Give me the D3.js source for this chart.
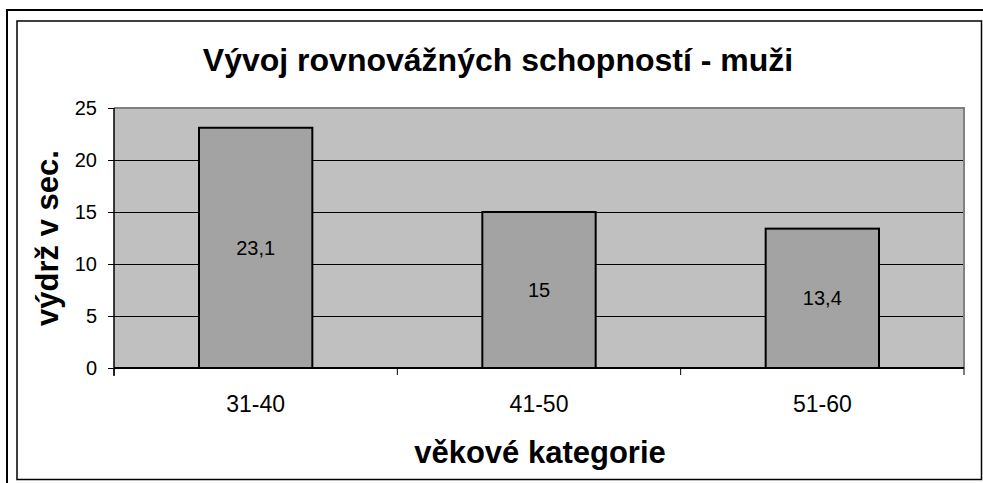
<!DOCTYPE html>
<html><head><meta charset="utf-8">
<script src="https://cdn.jsdelivr.net/npm/d3@7"></script>
<style>body{margin:0;background:#fff}svg{display:block}text{font-family:"Liberation Sans",Arial,sans-serif}</style>
</head><body><svg id="c" width="983" height="483"></svg>
<script>
const categories = ["31-40","41-50","51-60"];
const values = [23.1, 15, 13.4];
const valueLabels = ["23,1","15","13,4"];
const yTicks = [0,5,10,15,20,25];
const title = "Vývoj rovnovážných schopností - muži";
const yTitle = "výdrž v sec.";
const xTitle = "věkové kategorie";

const svg = d3.select("#c");
// outer frames
svg.append("rect").attr("x",7).attr("y",10).attr("width",990).attr("height",490).attr("fill","none").attr("stroke","#000").attr("stroke-width",2);
svg.append("rect").attr("x",17).attr("y",21).attr("width",964.5).attr("height",458.5).attr("fill","#fff").attr("stroke","#000").attr("stroke-width",1.5);

const L=114, R=964, T=108, B=368;
const x = d3.scaleBand().domain(categories).range([L,R]).paddingInner(0.6).paddingOuter(0.3);
const y = d3.scaleLinear().domain([0,25]).range([B,T]);

svg.append("rect").attr("x",L).attr("y",T).attr("width",R-L).attr("height",B-T).attr("fill","#c0c0c0");
// gridlines
svg.append("g").selectAll("line").data(yTicks.filter(d=>d>0&&d<25)).join("line")
  .attr("x1",L).attr("x2",R).attr("y1",d=>Math.round(y(d))+0.5).attr("y2",d=>Math.round(y(d))+0.5)
  .attr("stroke","#000").attr("stroke-width",1);
// plot border top/right gray
svg.append("path").attr("d",`M${L},${T} H${R} V${B}`).attr("fill","none").attr("stroke","#808080").attr("stroke-width",2);

// bars
svg.append("g").selectAll("rect").data(values).join("rect")
  .attr("x",(d,i)=>x(categories[i])).attr("width",x.bandwidth())
  .attr("y",d=>y(d)).attr("height",d=>B-y(d))
  .attr("fill","#a3a3a3").attr("stroke","#000").attr("stroke-width",2);
svg.append("g").selectAll("text").data(values).join("text")
  .attr("x",(d,i)=>x(categories[i])+x.bandwidth()/2).attr("y",d=>(y(d)+B)/2)
  .attr("dy","0.35em").attr("text-anchor","middle").attr("font-size",20).text((d,i)=>valueLabels[i]);

// y axis
const ya = svg.append("g").attr("transform",`translate(${L},0)`)
  .call(d3.axisLeft(y).tickValues(yTicks).tickSize(6).tickPadding(11).tickFormat(d=>d));
ya.select(".domain").attr("stroke","#000").attr("stroke-width",1.5).attr("d",`M0,${T}V${B+8}`);
ya.selectAll("text").attr("font-size",20).attr("font-family","Liberation Sans, Arial, sans-serif").attr("fill","#000");
ya.selectAll("line").attr("stroke","#000");

// x axis
const xa = svg.append("g").attr("transform",`translate(0,${B})`)
  .call(d3.axisBottom(x).tickSize(0).tickPadding(28));
xa.select(".domain").remove();
xa.selectAll("text").attr("font-size",23).attr("font-family","Liberation Sans, Arial, sans-serif").attr("fill","#000");
const bounds = [L].concat(categories.map(c=>x(c)+x.bandwidth()/2+x.step()/2));
svg.append("g").selectAll("line").data(bounds).join("line")
  .attr("x1",d=>d).attr("x2",d=>d).attr("y1",B).attr("y2",B+7).attr("stroke","#000");
svg.append("line").attr("x1",L).attr("x2",R).attr("y1",B).attr("y2",B).attr("stroke","#000").attr("stroke-width",2);

// titles
svg.append("text").attr("x",498).attr("y",71).attr("text-anchor","middle").attr("font-size",32).attr("font-weight","bold").text(title);
svg.append("text").attr("transform","translate(58,238) rotate(-90)").attr("text-anchor","middle").attr("font-size",31).attr("font-weight","bold").text(yTitle);
svg.append("text").attr("x",540).attr("y",463).attr("text-anchor","middle").attr("font-size",31).attr("font-weight","bold").text(xTitle);
</script></body></html>
